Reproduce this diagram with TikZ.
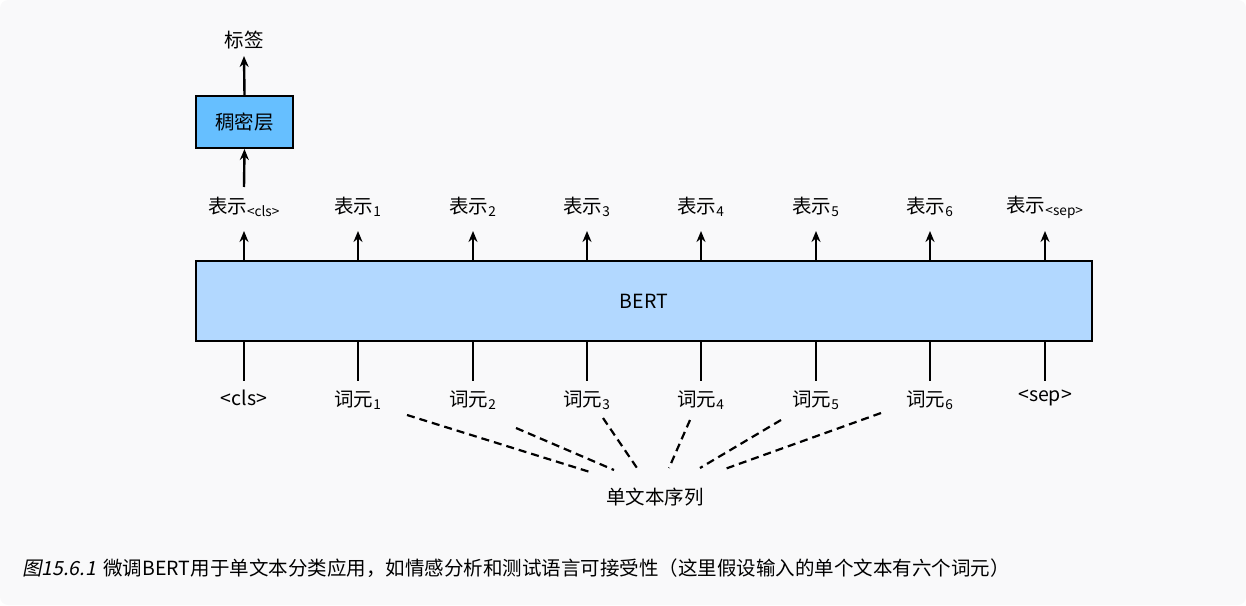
\documentclass[tikz,border=0pt]{standalone}
\usepackage{fontspec}
\setmainfont{Noto Sans CJK SC}[AutoFakeSlant=0.2]
\usetikzlibrary{arrows.meta}
\tikzset{
  lbl/.style={inner sep=1pt, font=\fontsize{19.5}{22}\selectfont},
  arrow/.style={line width=2.4pt,-{Stealth[length=11pt,width=9pt]}},
  plain/.style={line width=2.4pt},
  dashlink/.style={line width=2.2pt,dash pattern=on 8pt off 5pt},
}
\begin{document}
\begin{tikzpicture}[x=1pt,y=-1pt]
\useasboundingbox (0,0) rectangle (1246,605);
\fill[rounded corners=8pt,fill={rgb,255:red,249;green,249;blue,250}] (0,0) rectangle (1246,605);

\node (bert) [draw, line width=2pt, fill={rgb,255:red,178;green,216;blue,255}, minimum width=896pt, minimum height=80pt, lbl] at (644,301) {BERT};
\node (dense) [draw, line width=2pt, fill={rgb,255:red,102;green,191;blue,255}, minimum width=97pt, minimum height=52pt, lbl] at (244.5,122) {稠密层};
\node (label) [lbl] at (244,40) {标签};

% output representations
\node (r0) [lbl] at (244,207) {表示\textsubscript{<cls>}};
\foreach \i/\x in {1/358,2/473,3/587,4/701,5/816,6/930}
  \node (r\i) [lbl] at (\x,207) {表示\textsubscript{\i}};
\node (r7) [lbl] at (1045,207) {表示\textsubscript{<sep>}};

% input tokens
\node (t0) [lbl] at (244,398) {<cls>};
\foreach \i/\x in {1/358,2/473,3/587,4/701,5/816,6/930}
  \node (t\i) [lbl] at (\x,400) {词元\textsubscript{\i}};
\node (t7) [lbl] at (1045,398) {<sep>};

\node (seq) [lbl] at (655,497) {单文本序列};

\foreach \i/\x in {0/244,1/358,2/473,3/587,4/701,5/816,6/930,7/1045} {
  \draw [arrow] (\x,261) -- (\x,231);
  \draw [plain] (\x,341) -- (\x,381);
}
\draw [arrow] (dense.north) -- (244,56);
\draw [arrow] (244,187) -- (dense.south);

% dashed links to the sequence
\coordinate (s1) at (590,472);
\coordinate (s2) at (614,470);
\coordinate (s3) at (637,468);
\coordinate (s4) at (669,468);
\coordinate (s5) at (700,468);
\coordinate (s6) at (722,470);
\draw [dashlink] (407,415) -- (s1);
\draw [dashlink] (516,428) -- (s2);
\draw [dashlink] (603,418) -- (s3);
\draw [dashlink] (690,420) -- (s4);
\draw [dashlink] (781,420) -- (s5);
\draw [dashlink] (881,413) -- (s6);

\node (cap) [anchor=west, inner sep=0pt, font=\fontsize{19.5}{22}\selectfont] at (22,568) {\textit{图15.6.1}\, 微调BERT用于单文本分类应用，如情感分析和测试语言可接受性（这里假设输入的单个文本有六个词元）};
\end{tikzpicture}
\end{document}
